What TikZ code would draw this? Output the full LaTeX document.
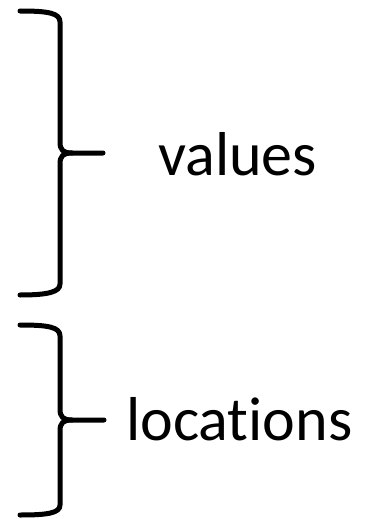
\documentclass[tikz,border=0pt]{standalone}
\usepackage{fontspec}
\setmainfont[Ligatures={NoCommon,NoContextual}]{Carlito}
\usepackage{tikz}
\usetikzlibrary{positioning}

\begin{document}
\begin{tikzpicture}[x=1pt,y=-1pt]
                \tikzstyle{every node}+=[inner sep=0pt,font=\fontsize{62}{70}\selectfont]
                \tikzstyle{brace}=[black,line width=5pt,line cap=round,line join=round]
                \useasboundingbox (0,0) rectangle (373,519);
                % upper brace
                \draw [brace] (20,11) .. controls (48,11) and (60,13) .. (60,22) -- (60,142)
                    .. controls (60,150) and (63,153) .. (72,153) -- (103,153);
                \draw [brace] (72,153) .. controls (63,153) and (60,156) .. (60,164) -- (60,284)
                    .. controls (60,292) and (48,295) .. (20,295);
                \node (values) [anchor=base west] at (158,175) {values};
                % lower brace
                \draw [brace] (20,325) .. controls (48,325) and (60,327) .. (60,336) -- (60,409)
                    .. controls (60,417) and (63,420) .. (72,420) -- (104,420);
                \draw [brace] (72,420) .. controls (63,420) and (60,423) .. (60,431) -- (60,505)
                    .. controls (60,513) and (48,515) .. (20,515);
                \node (locations) [anchor=base west] at (126,440) {locations};
\end{tikzpicture}
\end{document}
